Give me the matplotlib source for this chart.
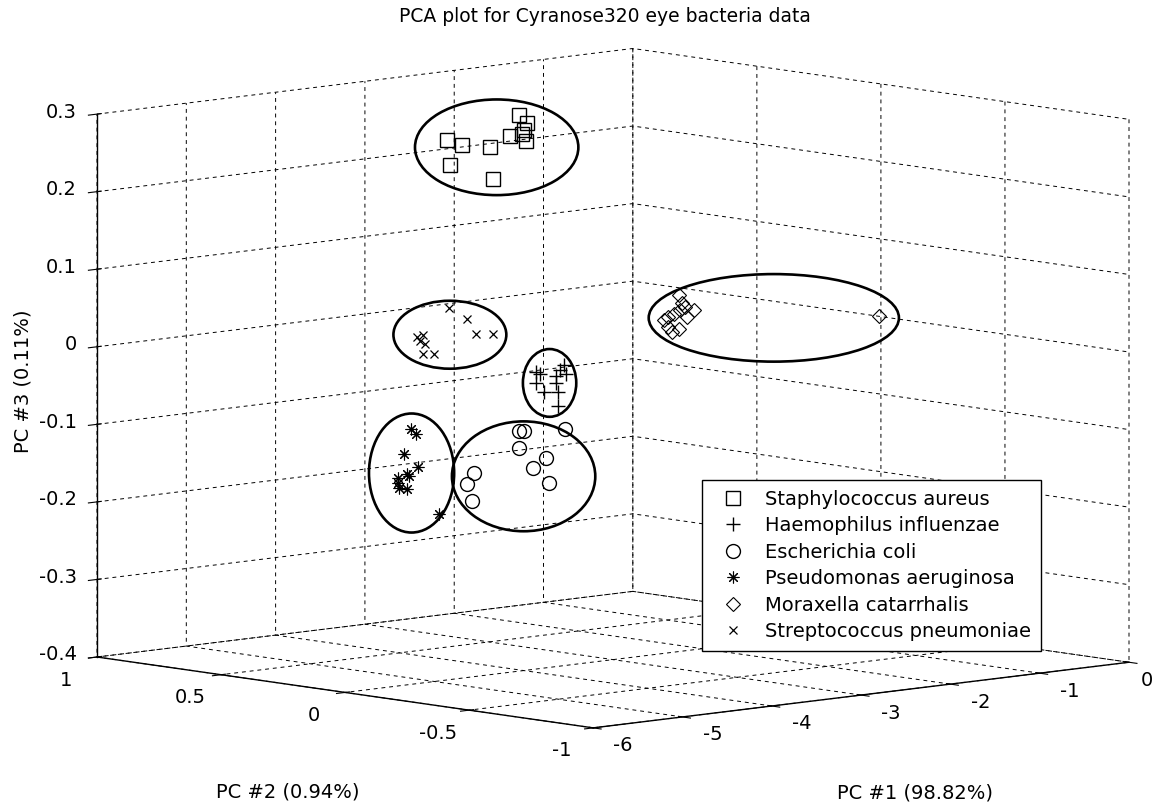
import numpy as np
import matplotlib
matplotlib.use("Agg")
import matplotlib.pyplot as plt
from matplotlib.patches import Ellipse
from mpl_toolkits.mplot3d import proj3d

plt.rcParams['font.family'] = ['DejaVu Sans']
plt.rcParams['axes.unicode_minus'] = False
plt.rcParams['grid.color'] = 'black'
plt.rcParams['grid.linestyle'] = '--'
plt.rcParams['grid.linewidth'] = 0.7
plt.rcParams['lines.dashed_pattern'] = [4.0, 4.0]
plt.rcParams['axes3d.xaxis.panecolor'] = (1, 1, 1, 0)
plt.rcParams['axes3d.yaxis.panecolor'] = (1, 1, 1, 0)
plt.rcParams['axes3d.zaxis.panecolor'] = (1, 1, 1, 0)

# ---------------- data (PC scores) ----------------
species = ["Staphylococcus aureus", "Haemophilus influenzae", "Escherichia coli",
           "Pseudomonas aeruginosa", "Moraxella catarrhalis", "Streptococcus pneumoniae"]

staph_pc1 = [-2.66, -2.57, -2.61, -2.76, -2.59, -3.47, -3.30, -2.99, -3.44, -2.95, -2.63]
staph_pc2 = [0.50, 0.50, 0.50, 0.50, 0.50, 0.50, 0.50, 0.50, 0.50, 0.50, 0.50]
staph_pc3 = [0.274, 0.263, 0.254, 0.249, 0.240, 0.254, 0.245, 0.238, 0.221, 0.196, 0.250]

haemo_pc1 = [-4.28, -4.23, -4.28, -4.19, -4.06, -4.01, -3.97, -3.94, -4.03, -4.03, -4.06]
haemo_pc2 = [-0.15, -0.15, -0.15, -0.15, -0.15, -0.15, -0.15, -0.15, -0.15, -0.15, -0.15]
haemo_pc3 = [-0.004, -0.007, -0.019, -0.031, -0.013, -0.005, 0.001, -0.011, -0.033, -0.052, -0.022]

ecoli_pc1 = [-4.33, -4.28, -4.33, -4.83, -4.91, -4.86, -4.17, -4.03, -3.99, -3.82]
ecoli_pc2 = [-0.10, -0.10, -0.10, -0.10, -0.10, -0.10, -0.10, -0.10, -0.10, -0.10]
ecoli_pc3 = [-0.082, -0.083, -0.104, -0.129, -0.142, -0.165, -0.132, -0.121, -0.154, -0.087]

pseudo_pc1 = [-5.54, -5.48, -5.62, -5.46, -5.59, -5.68, -5.56, -5.67, -5.59, -5.68, -5.23]
pseudo_pc2 = [-0.10, -0.10, -0.10, -0.10, -0.10, -0.10, -0.10, -0.10, -0.10, -0.10, -0.10]
pseudo_pc3 = [-0.062, -0.069, -0.093, -0.112, -0.120, -0.124, -0.123, -0.137, -0.139, -0.130, -0.176]

morax_pc1 = [-3.26, -3.22, -3.17, -3.09, -3.22, -3.15, -3.08, -3.06, -3.09, -3.00, -2.93, -3.03, -0.85]
morax_pc2 = [-0.30, -0.30, -0.30, -0.30, -0.30, -0.30, -0.30, -0.30, -0.30, -0.30, -0.30, -0.30, -0.30]
morax_pc3 = [0.055, 0.046, 0.039, 0.041, 0.059, 0.061, 0.066, 0.075, 0.085, 0.056, 0.063, 0.069, 0.026]

strep_pc1 = [-4.84, -4.64, -4.53, -4.34, -5.19, -5.13, -5.16, -5.11, -5.13, -5.00]
strep_pc2 = [0.00, 0.00, 0.00, 0.00, 0.00, 0.00, 0.00, 0.00, 0.00, 0.00]
strep_pc3 = [0.079, 0.062, 0.041, 0.039, 0.047, 0.048, 0.041, 0.037, 0.024, 0.022]

pc1_ticks = [-6, -5, -4, -3, -2, -1, 0]
pc2_ticks = [-1, -0.5, 0, 0.5, 1]
pc3_ticks = [-0.4, -0.3, -0.2, -0.1, 0, 0.1, 0.2, 0.3]

title = "PCA plot for Cyranose320 eye bacteria data"
xlabel = "PC #1 (98.82%)"
ylabel = "PC #2 (0.94%)"
zlabel = "PC #3 (0.11%)"

# ---------------- styles ----------------
FS = 14
groups = [
    (staph_pc1, staph_pc2, staph_pc3, dict(marker='s', ms=9.5, mfc='none', mew=1.0)),
    (haemo_pc1, haemo_pc2, haemo_pc3, dict(marker='+', ms=10.5, mew=1.0)),
    (ecoli_pc1, ecoli_pc2, ecoli_pc3, dict(marker='o', ms=10, mfc='none', mew=1.0)),
    (pseudo_pc1, pseudo_pc2, pseudo_pc3, dict(marker=(8, 2, 0), ms=8.5, mew=0.8)),
    (morax_pc1, morax_pc2, morax_pc3, dict(marker='D', ms=7, mfc='none', mew=0.8)),
    (strep_pc1, strep_pc2, strep_pc3, dict(marker='x', ms=6, mew=0.9)),
]
# hand-drawn ellipse look: (offset px, padding px) around each cluster's projected extent
ellipse_style = [((9.5, 0), (41.5, 16)), ((-1.5, -2.5), (11.5, 13)), ((7.7, 11), (23, 19)),
                 ((-7, 1.7), (22.5, 17)), ((2, 4.5), (17.5, 25.5)), ((-5.5, 3.5), (18.5, 11))]
# tick label offsets from the tick point (px, y downward)
off_pc1 = (30, 18)
off_pc2 = (-31, 23)
off_pc3 = (-20, -2)

W, H = 1156, 806
fig = plt.figure(figsize=(W / 100, H / 100), dpi=100)
side0 = 700
ax = fig.add_axes([0.1, 0.05, side0 / W, side0 / H], projection='3d', proj_type='ortho')
ax.view_init(elev=7.6, azim=-132.8)
ax.set_box_aspect((4, 4, 3))

handles = []
for (x, y, z, st) in groups:
    h, = ax.plot(x, y, z, linestyle='none', color='black', mec='black', **st)
    handles.append(h)

ax.set_xlim(pc1_ticks[0], pc1_ticks[-1])
ax.set_ylim(pc2_ticks[0], pc2_ticks[-1])
ax.set_zlim(pc3_ticks[0], pc3_ticks[-1])
ax.set_xticks(pc1_ticks)
ax.set_yticks(pc2_ticks)
ax.set_zticks(pc3_ticks)
ax.set_xticklabels([])
ax.set_yticklabels([])
ax.set_zticklabels([])
for axis in (ax.xaxis, ax.yaxis, ax.zaxis):
    axis.pane.set_edgecolor('none')
    axis.line.set_color('black')
    axis.line.set_linewidth(1.0)
ax.tick_params(axis='both', colors='black')

leg = ax.legend(handles, species, loc='upper left', bbox_to_anchor=(702 / W, 1 - 480 / H),
                bbox_transform=fig.transFigure, fontsize=FS, frameon=True, fancybox=False,
                framealpha=1, edgecolor='black', borderpad=0.5, handlelength=2.2,
                handletextpad=0.55, labelspacing=0.385, borderaxespad=0)
leg.get_frame().set_linewidth(1.0)

# ---- place axes so the box lands where the reference has it ----
fig.canvas.draw()

def to_px(x, y, z):
    xs, ys, _ = proj3d.proj_transform(np.atleast_1d(np.asarray(x, float)),
                                      np.atleast_1d(np.asarray(y, float)),
                                      np.atleast_1d(np.asarray(z, float)), ax.get_proj())
    return ax.transData.transform(np.column_stack([xs, ys]))

pos = ax.get_position()
O = np.array([pos.x0 * W, pos.y0 * H])
S = pos.width * W
A = to_px(pc1_ticks[0], pc2_ticks[-1], pc3_ticks[0])[0]
B = to_px(pc1_ticks[-1], pc2_ticks[0], pc3_ticks[0])[0]
TA = np.array([97, H - 657])
TB = np.array([1129, H - 663])
fA = (A - O) / S
fB = (B - O) / S
S_new = (TB[0] - TA[0]) / (fB[0] - fA[0])
O_new = TA - S_new * fA
ax.set_position([O_new[0] / W, O_new[1] / H, S_new / W, S_new / H])
fig.canvas.draw()

# ---- ellipses around each cluster (screen space) ----
for (x, y, z, st), (off, pad) in zip(groups, ellipse_style):
    p = to_px(x, y, z)
    lo, hi = p.min(axis=0), p.max(axis=0)
    c = (lo + hi) / 2 + np.array([off[0], -off[1]])
    half = (hi - lo) / 2 + np.array(pad)
    e = Ellipse((c[0] / W, c[1] / H), 2 * half[0] / W, 2 * half[1] / H,
                transform=fig.transFigure, fill=False, edgecolor='black', linewidth=1.9)
    fig.add_artist(e)

# ---- tick labels, placed at projected tick positions ----
def put_label(px, off, text, ha='center'):
    xpix = min(px[0] + off[0], W - 9)
    fig.text(xpix / W, (px[1] - off[1]) / H, text, ha=ha, va='center', fontsize=FS)

for v in pc1_ticks:
    put_label(to_px(v, pc2_ticks[0], pc3_ticks[0])[0], off_pc1, f"{v:g}")
for v in pc2_ticks:
    put_label(to_px(pc1_ticks[0], v, pc3_ticks[0])[0], off_pc2, f"{v:g}")
for v in pc3_ticks:
    put_label(to_px(pc1_ticks[0], pc2_ticks[-1], v)[0], off_pc3, f"{v:g}", ha='right')

fig.text(605 / W, 1 - 16 / H, title, ha='center', va='center', fontsize=13.5)
fig.text(288 / W, 1 - 792 / H, ylabel, ha='center', va='center', fontsize=FS)
fig.text(915 / W, 1 - 793 / H, xlabel, ha='center', va='center', fontsize=FS)
fig.text(23 / W, 1 - 381 / H, zlabel, ha='center', va='center', rotation=90, fontsize=FS)

fig.savefig("out.png", dpi=100)
